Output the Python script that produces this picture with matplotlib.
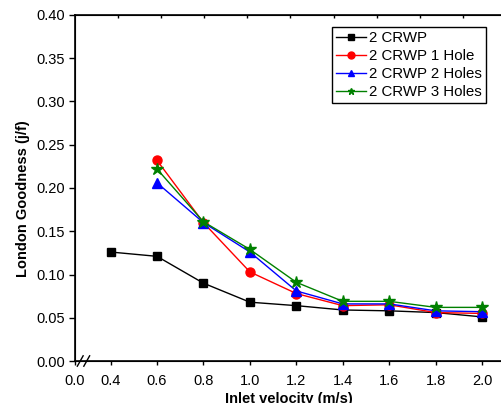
import matplotlib.pyplot as plt

plt.rcParams['font.family'] = ['Liberation Sans', 'DejaVu Sans']

# Data
velocity = [0.4, 0.6, 0.8, 1.0, 1.2, 1.4, 1.6, 1.8, 2.0]
velocity_holes = [0.6, 0.8, 1.0, 1.2, 1.4, 1.6, 1.8, 2.0]
crwp = [0.126, 0.121, 0.090, 0.068, 0.064, 0.059, 0.058, 0.056, 0.051]
crwp_1hole = [0.232, 0.160, 0.103, 0.078, 0.064, 0.065, 0.056, 0.055]
crwp_2holes = [0.206, 0.160, 0.126, 0.081, 0.066, 0.066, 0.058, 0.057]
crwp_3holes = [0.222, 0.161, 0.129, 0.091, 0.069, 0.069, 0.062, 0.062]
x_ticks = [0.4, 0.6, 0.8, 1.0, 1.2, 1.4, 1.6, 1.8, 2.0]
y_ticks = [0.00, 0.05, 0.10, 0.15, 0.20, 0.25, 0.30, 0.35, 0.40]

fig = plt.figure(figsize=(5.01, 4.03), dpi=100)
ax = fig.add_axes([0.1497, 0.1042, 0.852, 0.8586])

# Broken axis: left edge stands for 0.0
x_left = 0.247
ax.plot(velocity, crwp, color='black', lw=1, marker='s', ms=5.5, label='2 CRWP')
ax.plot(velocity_holes, crwp_1hole, color='red', lw=1, marker='o', ms=6.5, label='2 CRWP 1 Hole')
ax.plot(velocity_holes, crwp_2holes, color='blue', lw=1, marker='^', ms=7, label='2 CRWP 2 Holes')
ax.plot(velocity_holes, crwp_3holes, color='green', lw=1, marker='*', ms=9, label='2 CRWP 3 Holes')

ax.set_xlim(x_left, 2.085)
ax.set_ylim(0, 0.40)
ax.set_xticks([x_left] + x_ticks)
ax.set_xticklabels(['0.0'] + ['%.1f' % v for v in x_ticks])
ax.set_yticks(y_ticks)
ax.set_yticklabels(['%.2f' % v for v in y_ticks])
ax.tick_params(axis='both', labelsize=10.5, direction='out', width=1)
ax.tick_params(axis='y', length=4, pad=3)
ax.tick_params(axis='x', length=3, pad=6)
ax.xaxis.get_major_ticks()[0].tick1line.set_visible(False)

for s in ax.spines.values():
    s.set_linewidth(1.2)

# top axis ticks (unbroken scale)
top = ax.twiny()
top.set_xlim(0, 426 / 215)
top.set_xticks([0.2 * i for i in range(1, 10)])
top.tick_params(axis='x', direction='in', length=2.5, width=1, labeltop=False)

# break marks on the x axis
for dx in [0.0, 0.028]:
    ax.plot([x_left + 0.01 + dx, x_left + 0.035 + dx], [-0.006, 0.006],
            color='black', lw=1, clip_on=False)

ax.set_xlabel('Inlet velocity (m/s)', fontsize=10.5, fontweight='bold', labelpad=3)
ax.set_ylabel('London Goodness (j/f)', fontsize=10.5, fontweight='bold', labelpad=6)
ax.yaxis.set_label_coords(-0.105, 0.468)

leg = ax.legend(loc='upper right', bbox_to_anchor=(0.962, 0.965), fontsize=10.8,
                frameon=True, fancybox=False, edgecolor='black', framealpha=1,
                handlelength=2.0, borderpad=0.25, labelspacing=0.27,
                handletextpad=0.2, borderaxespad=0)
leg.get_frame().set_linewidth(1)
for h in leg.legend_handles:
    h.set_markersize(5)

fig.savefig('out.png', dpi=100)
